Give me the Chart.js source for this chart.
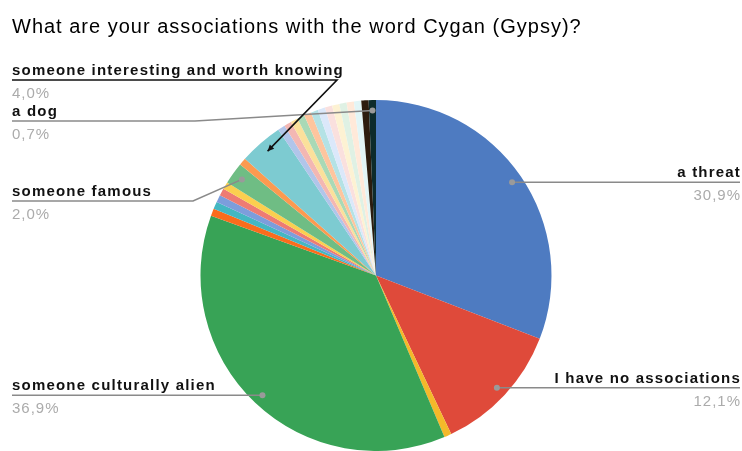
<!DOCTYPE html>
<html>
<head>
<meta charset="utf-8">
<script src="https://cdn.jsdelivr.net/npm/chart.js@4.4.1/dist/chart.umd.min.js"></script>
<style>
  html, body { margin: 0; padding: 0; background: #fff; }
  #wrap { width: 742px; height: 451px; }
</style>
</head>
<body>
<div id="wrap"><canvas id="pieChart" width="742" height="451"></canvas></div>
<script>
const titleText = "What are your associations with the word Cygan (Gypsy)?";

// answers clockwise from the top; unnamed ones are single replies
const answers = [
  "a threat", "I have no associations", "", "someone culturally alien",
  "", "", "", "", "", "someone famous", "", "someone interesting and worth knowing",
  "", "", "", "", "", "", "", "", "", "", "", "", "", "a dog"
];

// number of replies per answer
const replies = [
  46, 18, 1, 55,
  1, 1, 1, 1, 1, 3, 1, 6,
  1, 1, 1, 1, 1, 1, 1, 1, 1, 1, 1, 1, 1, 1
];

const sliceColors = [
  "#4e7bc1", "#df4a3a", "#f4b92a", "#38a356",
  "#fa6c1c", "#44b7c2", "#7c9ddc", "#ee7b73", "#fbcf4f", "#6fbd84", "#fc9a50", "#7dcbd1",
  "#b1c5ea", "#f3b7b3", "#fbe09b", "#a9d9b6", "#fec59e", "#b4e2e5",
  "#dbe8fa", "#fae0de", "#fdf2d3", "#dff1e4", "#ffe9d9", "#e2f5f6",
  "#2c1c0e", "#0d2b2c"
];

// which slices get a label and how the leader line runs
const callouts = [
  { index: 0, side: "right" },
  { index: 1, side: "right" },
  { index: 3, side: "left" },
  { index: 9, side: "left", lineY: 201, elbowX: 193 },
  { index: 25, side: "left", lineY: 121, elbowX: 195 },
  { index: 11, side: "left", lineY: 80, elbowX: 337, arrow: true }
];

const total = replies.reduce((a, b) => a + b, 0);
function pctText(v) {
  return (v / total * 100).toFixed(1).replace(".", ",") + "%";
}

const calloutPlugin = {
  id: "callouts",
  afterDraw(chart) {
    const ctx = chart.ctx;
    const arcs = chart.getDatasetMeta(0).data;
    ctx.save();

    ctx.font = "20px 'Liberation Sans', Arial, sans-serif";
    ctx.letterSpacing = "1px";
    ctx.fillStyle = "#000";
    ctx.textAlign = "left";
    ctx.textBaseline = "alphabetic";
    ctx.fillText(titleText, 12, 33);

    callouts.forEach((c) => {
      const arc = arcs[c.index];
      const p = arc.getProps(["x", "y", "startAngle", "endAngle", "outerRadius"], true);
      const mid = (p.startAngle + p.endAngle) / 2;
      const ax = p.x + Math.cos(mid) * p.outerRadius * 0.94;
      const ay = p.y + Math.sin(mid) * p.outerRadius * 0.94;
      const ly = c.lineY !== undefined ? c.lineY : ay;
      const edge = c.side === "right" ? 740 : 12;

      ctx.lineWidth = 1.6;
      ctx.strokeStyle = c.arrow ? "#111" : "#8a8a8a";
      ctx.beginPath();
      ctx.moveTo(edge, ly);
      if (c.elbowX !== undefined) ctx.lineTo(c.elbowX, ly);
      ctx.lineTo(ax, ay);
      ctx.stroke();

      if (c.arrow) {
        const ang = Math.atan2(ay - ly, ax - c.elbowX);
        ctx.fillStyle = "#111";
        ctx.beginPath();
        ctx.moveTo(ax, ay);
        ctx.lineTo(ax - Math.cos(ang - 0.45) * 7, ay - Math.sin(ang - 0.45) * 7);
        ctx.lineTo(ax - Math.cos(ang + 0.45) * 7, ay - Math.sin(ang + 0.45) * 7);
        ctx.closePath();
        ctx.fill();
      } else {
        ctx.fillStyle = "#9a9a9a";
        ctx.beginPath();
        ctx.arc(ax, ay, 3, 0, Math.PI * 2);
        ctx.fill();
      }

      const tx = edge + (c.side === "right" ? 1 : 0);
      ctx.textAlign = c.side === "right" ? "right" : "left";
      ctx.letterSpacing = "1.2px";
      ctx.font = "bold 15px 'Liberation Sans', Arial, sans-serif";
      ctx.fillStyle = "#111";
      ctx.fillText(answers[c.index], tx, ly - 5);
      ctx.letterSpacing = "1px";
      ctx.font = "15px 'Liberation Sans', Arial, sans-serif";
      ctx.fillStyle = "#ababab";
      ctx.fillText(pctText(replies[c.index]), tx, ly + 18);
    });
    ctx.restore();
  }
};

new Chart(document.getElementById("pieChart"), {
  type: "pie",
  data: {
    labels: answers,
    datasets: [{
      data: replies,
      backgroundColor: sliceColors,
      borderWidth: 0
    }]
  },
  options: {
    responsive: false,
    animation: false,
    layout: { padding: { left: 200, right: 190, top: 100, bottom: 0 } },
    plugins: {
      legend: { display: false },
      tooltip: { enabled: false }
    }
  },
  plugins: [calloutPlugin]
});
</script>
</body>
</html>
